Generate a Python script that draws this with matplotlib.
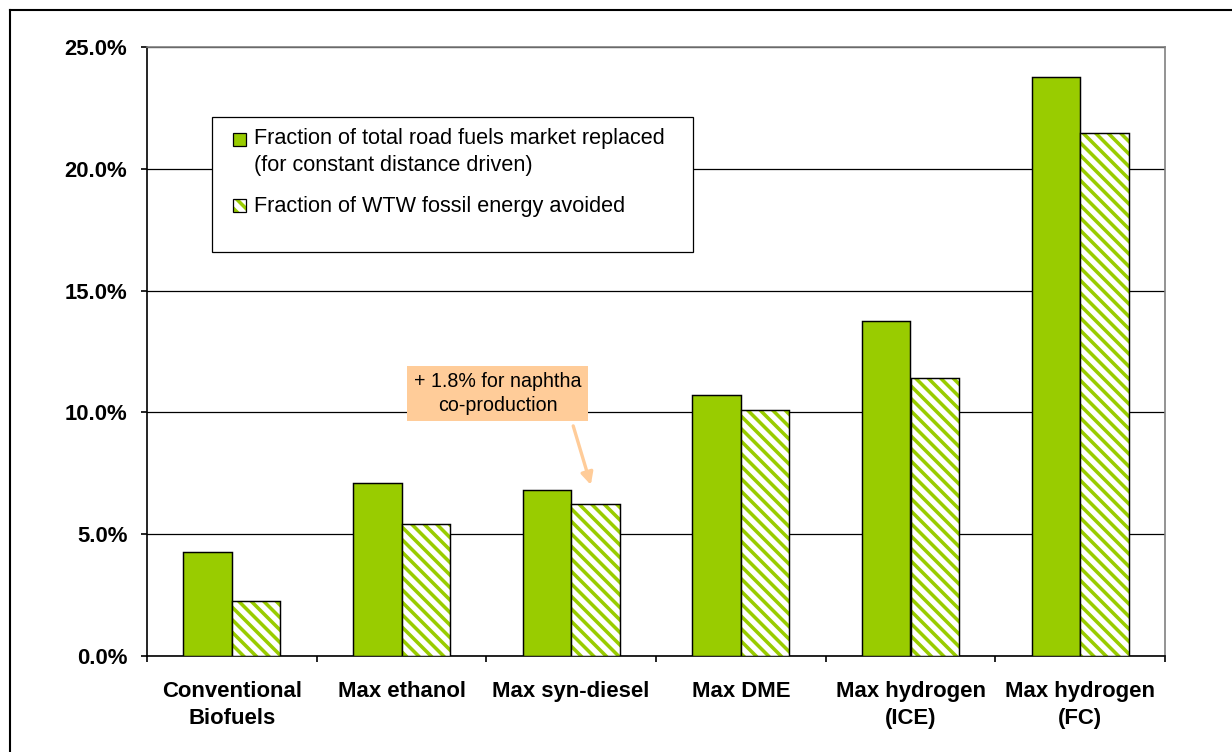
import numpy as np
import matplotlib
matplotlib.use("Agg")
from matplotlib import pyplot as plt
from matplotlib.patches import Rectangle
from matplotlib.lines import Line2D

# data
categories = [
    "Conventional\nBiofuels",
    "Max ethanol",
    "Max syn-diesel",
    "Max DME",
    "Max hydrogen\n(ICE)",
    "Max hydrogen\n(FC)",
]
market_replaced = [4.25, 7.1, 6.8, 10.7, 13.75, 23.75]
fossil_avoided = [2.25, 5.4, 6.25, 10.1, 11.4, 21.45]
legend_labels = [
    "Fraction of total road fuels market replaced\n(for constant distance driven)",
    "Fraction of WTW fossil energy avoided",
]
note_text = "+ 1.8% for naphtha\nco-production"

GREEN = "#99CC00"
NOTE = "#FFCC99"
HATCH = "\\" * 4
DPI = 150
W, H = 1232, 752

plt.rcParams["font.family"] = ["Liberation Sans", "DejaVu Sans"]
plt.rcParams["hatch.linewidth"] = 1.7


def fx(x):
    return x / W


def fy(y):
    return 1 - y / H


fig = plt.figure(figsize=(W / DPI, H / DPI), dpi=DPI)
ax = fig.add_axes([fx(147), fy(656), fx(1165) - fx(147), fy(47) - fy(656)])

x = np.arange(len(categories))
bw = 0.286
ax.bar(x - bw / 2, market_replaced, bw, color=GREEN, edgecolor="black", lw=0.7, zorder=3)
ax.bar(x + bw / 2, fossil_avoided, bw, color="white", edgecolor=GREEN, hatch=HATCH, lw=0, zorder=3)
ax.bar(x + bw / 2, fossil_avoided, bw, fill=False, edgecolor="black", lw=0.7, zorder=4)

ax.set_xlim(-0.5, len(categories) - 0.5)
ax.set_ylim(0, 25)
yt = np.arange(0, 26, 5)
ax.set_yticks(yt, [f"{v:.1f}%" for v in yt])
ax.set_xticks(np.arange(len(categories) + 1) - 0.5, [""] * (len(categories) + 1))
ax.set_xticks(x, categories, minor=True)
ax.tick_params(axis="x", which="minor", length=0, pad=12)
ax.tick_params(axis="both", which="major", length=2.9, width=0.8, direction="out")
ax.tick_params(axis="y", pad=6.5)
for lab in ax.get_yticklabels() + ax.get_xticklabels(minor=True):
    lab.set_fontweight("bold")
    lab.set_fontsize(10.6)
for lab in ax.get_xticklabels(minor=True):
    lab.set_linespacing(1.35)

ax.yaxis.grid(True, color="black", lw=0.6)
ax.set_axisbelow(True)
for s in ["left", "bottom"]:
    ax.spines[s].set_linewidth(0.8)
for s in ["top", "right"]:
    ax.spines[s].set_color("#808080")
    ax.spines[s].set_linewidth(0.8)

# note box with arrow
ax.add_patch(Rectangle((1.032, 9.65), 1.067, 2.25, facecolor=NOTE, edgecolor="none", zorder=5))
ax.text(1.566, 10.78, note_text, ha="center", va="center", multialignment="center",
        fontsize=9.4, linespacing=1.3, zorder=6)
ax.annotate("", xy=(2.123, 6.86), xytext=(2.005, 9.61),
            arrowprops=dict(arrowstyle="-|>", color=NOTE, lw=1.6, mutation_scale=12), zorder=6)

# legend box drawn by hand to match the reference layout
fig.add_artist(Rectangle((fx(212), fy(252)), fx(693) - fx(212), fy(117) - fy(252),
                         facecolor="white", edgecolor="black", lw=0.6, zorder=5))
hs = 13
fig.add_artist(Rectangle((fx(233), fy(146)), hs / W, hs / H, facecolor=GREEN,
                         edgecolor="black", lw=0.6, zorder=6))
fig.add_artist(Rectangle((fx(233), fy(212)), hs / W, hs / H, facecolor="white",
                         edgecolor=GREEN, hatch=HATCH, lw=0, zorder=6))
fig.add_artist(Rectangle((fx(233), fy(212)), hs / W, hs / H, fill=False,
                         edgecolor="black", lw=0.6, zorder=7))
fig.text(fx(254), fy(128), legend_labels[0], ha="left", va="top", fontsize=10.4,
         linespacing=1.38, zorder=7)
fig.text(fx(254), fy(196), legend_labels[1], ha="left", va="top", fontsize=10.4, zorder=7)

# outer frame (only left and top edges visible in the reference)
fig.add_artist(Line2D([fx(10), fx(10)], [0, fy(10)], color="black", lw=1.0))
fig.add_artist(Line2D([fx(10), 1], [fy(10), fy(10)], color="black", lw=1.0))

fig.savefig("out.png", dpi=DPI)
